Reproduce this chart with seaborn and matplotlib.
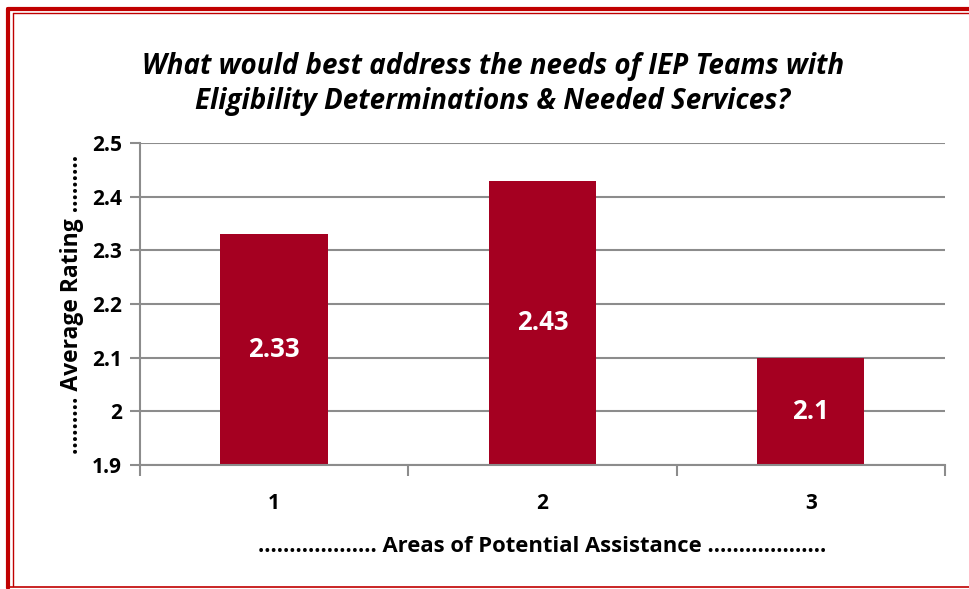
import matplotlib
matplotlib.use("Agg")
import matplotlib.pyplot as plt
import seaborn as sns
import pandas as pd
from matplotlib.lines import Line2D

categories = ["1", "2", "3"]
values = [2.33, 2.43, 2.1]
value_labels = ["2.33", "2.43", "2.1"]
yticks = [1.9, 2.0, 2.1, 2.2, 2.3, 2.4, 2.5]
ytick_labels = ["1.9", "2", "2.1", "2.2", "2.3", "2.4", "2.5"]
title = "What would best address the needs of IEP Teams with\nEligibility Determinations & Needed Services?"
xlabel = "................... Areas of Potential Assistance ..................."
ylabel = "......... Average Rating ........."

sns.set_style("white")
plt.rcParams['font.family'] = ['Open Sans', 'DejaVu Sans']
plt.rcParams['text.color'] = 'black'
plt.rcParams['axes.labelcolor'] = 'black'
plt.rcParams['xtick.color'] = 'black'
plt.rcParams['ytick.color'] = 'black'

W, H = 969, 589
fig = plt.figure(figsize=(W / 100, H / 100), dpi=100)
ax = fig.add_axes([140 / W, 1 - 465 / H, (945 - 140) / W, (465 - 143) / H])

df = pd.DataFrame({"cat": categories, "val": values})
bar_color = "#A50021"
sns.barplot(data=df, x="cat", y="val", color=bar_color, width=0.4, ax=ax,
            saturation=1, edgecolor="none")

grid_c = "#8C8C8C"
ax.set_ylim(1.9, 2.5)
ax.set_xlim(-0.5, 2.5)
ax.set_yticks(yticks)
ax.set_yticklabels(ytick_labels, fontsize=15, fontweight="bold")
ax.set_xticks(range(len(categories)))
ax.set_xticklabels(categories, fontsize=15, fontweight="bold")
ax.tick_params(axis="x", length=0, pad=20)
ax.tick_params(axis="y", length=7, color=grid_c, labelcolor="black", width=1.5,
               direction="out", left=True, pad=6)
ax.yaxis.grid(True, color=grid_c, linewidth=1.5)
ax.set_axisbelow(True)
for s in ["top", "right"]:
    ax.spines[s].set_visible(False)
for s in ["left", "bottom"]:
    ax.spines[s].set_color(grid_c)
    ax.spines[s].set_linewidth(1.5)

ax.set_xticks([-0.5, 0.5, 1.5, 2.5], minor=True)
ax.tick_params(axis="x", which="minor", length=8, color=grid_c, width=1.5, bottom=True)

for i, (v, lab) in enumerate(zip(values, value_labels)):
    ax.text(i, (1.9 + v) / 2, lab, ha="center", va="center", color="white",
            fontsize=18.5, fontweight="bold")

ax.set_xlabel(xlabel, fontsize=15.8, fontweight="bold", labelpad=16, color="black")
ax.set_ylabel(ylabel, fontsize=16.5, fontweight="bold", labelpad=6, color="black")

fig.text(493 / W, 1 - 84 / H, title, ha="center", va="center", color="black",
         fontsize=20, fontweight="bold", fontstyle="italic", linespacing=1.25)

red = "#C00000"
fig.add_artist(Line2D([8 / W, 1], [1 - 9 / H, 1 - 9 / H], color=red, lw=3, transform=fig.transFigure))
fig.add_artist(Line2D([13 / W, 1], [1 - 13 / H, 1 - 13 / H], color=red, lw=1, transform=fig.transFigure))
fig.add_artist(Line2D([8 / W, 8 / W], [1 - 9 / H, 1 - 588 / H], color=red, lw=3, transform=fig.transFigure))
fig.add_artist(Line2D([13 / W, 13 / W], [1 - 13 / H, 1 - 586 / H], color=red, lw=1, transform=fig.transFigure))
fig.add_artist(Line2D([8 / W, 1], [1 - 587 / H, 1 - 587 / H], color=red, lw=1.2, transform=fig.transFigure))

fig.savefig("out.png", dpi=100)
